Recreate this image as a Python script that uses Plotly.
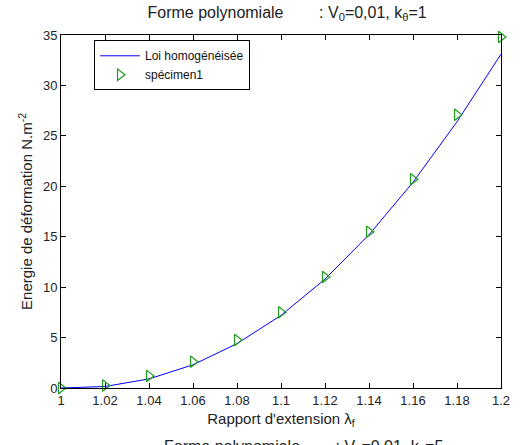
import plotly.graph_objects as go

# extension ratio values
lam = [1.00, 1.02, 1.04, 1.06, 1.08, 1.10, 1.12, 1.14, 1.16, 1.18, 1.20]

# homogenised law
loi_homog = [0.0, 0.15, 0.9, 2.3, 4.4, 7.2, 10.8, 15.2, 20.4, 26.4, 33.1]

# specimen 1 measurements
specimen1 = [0.0, 0.25, 1.2, 2.6, 4.75, 7.5, 11.0, 15.5, 20.7, 27.1, 34.8]

x_ticks = [1, 1.02, 1.04, 1.06, 1.08, 1.1, 1.12, 1.14, 1.16, 1.18, 1.2]
x_ticktext = ['1', '1.02', '1.04', '1.06', '1.08', '1.1', '1.12', '1.14', '1.16', '1.18', '1.2']
y_ticks = [0, 5, 10, 15, 20, 25, 30, 35]

font_family = 'Liberation Sans, Arial, sans-serif'
text_color = '#222222'

fig = go.Figure()

fig.add_trace(go.Scatter(
    x=lam, y=loi_homog,
    mode='lines',
    name='Loi homogénéisée',
    line=dict(color='#0000ff', width=1)
))

fig.add_trace(go.Scatter(
    x=lam, y=specimen1,
    mode='markers',
    name='spécimen1',
    marker=dict(symbol='triangle-right-open', size=10, color='#1f9a1f',
                line=dict(width=1.2, color='#1f9a1f')),
    cliponaxis=False
))

axis_style = dict(
    showline=True, linecolor='#000000', linewidth=1, mirror='ticks',
    ticks='inside', ticklen=5, tickcolor='#000000',
    showgrid=False, zeroline=False,
    tickfont=dict(family=font_family, size=13, color=text_color),
)

fig.update_layout(
    width=522, height=445,
    margin=dict(l=61, r=12, t=35, b=57),
    paper_bgcolor='white', plot_bgcolor='white',
    font=dict(family=font_family, size=13, color=text_color),
    title=dict(
        text='Forme polynomiale        : V<sub>0</sub>=0,01, k<sub>θ</sub>=1',
        x=0.55, xanchor='center', y=0.972, yanchor='middle',
        font=dict(family=font_family, size=16, color=text_color)
    ),
    xaxis=dict(
        range=[1, 1.2], tickvals=x_ticks, ticktext=x_ticktext,
        title=dict(text="Rapport d'extension λ<sub>f</sub>", standoff=6,
                   font=dict(family=font_family, size=15, color=text_color)),
        **axis_style
    ),
    yaxis=dict(
        range=[0, 35], tickvals=y_ticks,
        title=dict(text='Energie de déformation N.m<sup>-2</sup>', standoff=6,
                   font=dict(family=font_family, size=15, color=text_color)),
        **axis_style
    ),
    legend=dict(
        x=0.075, y=0.985, xanchor='left', yanchor='top',
        bgcolor='white', bordercolor='#000000', borderwidth=1,
        font=dict(family=font_family, size=12, color='#111111'),
        tracegroupgap=0, itemwidth=40
    ),
    showlegend=True
)

# next figure's title, cut off at the bottom edge
fig.add_annotation(
    text='Forme polynomiale        : V<sub>0</sub>=0,01, k<sub>θ</sub>=5',
    xref='paper', yref='paper', x=0.55, y=-0.137,
    xanchor='center', yanchor='top', showarrow=False,
    font=dict(family=font_family, size=16, color=text_color)
)

# drop the default page margin so the figure sits at the window's corner
fig.write_html('out.html', config={'displayModeBar': False},
               post_script="document.body.style.margin='0';")
